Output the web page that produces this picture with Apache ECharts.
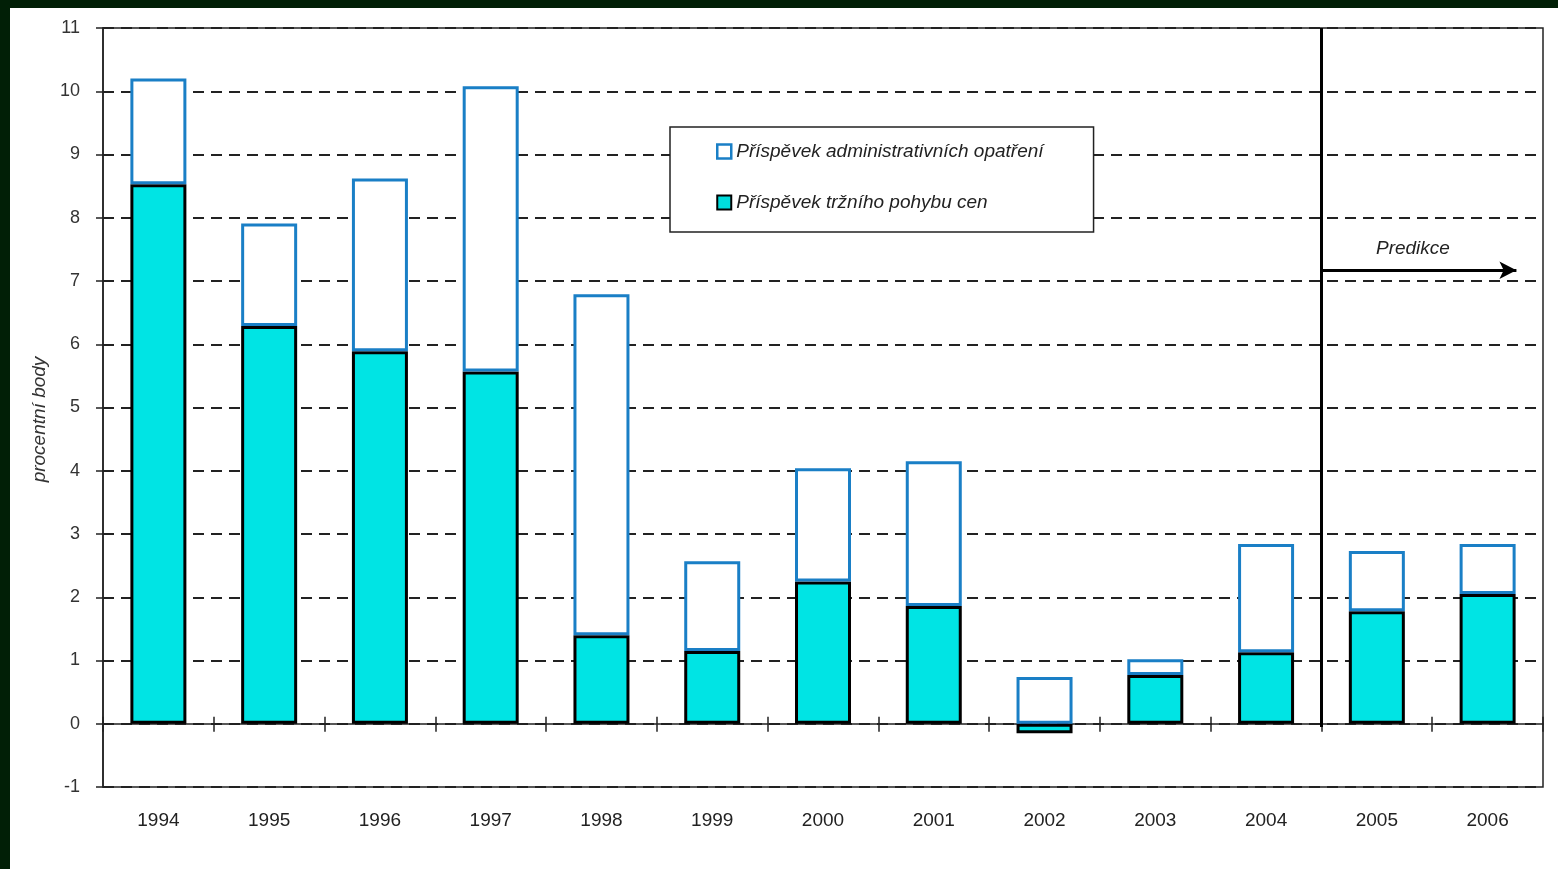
<!DOCTYPE html>
<html>
<head>
<meta charset="utf-8">
<script src="https://cdn.jsdelivr.net/npm/echarts@6/dist/echarts.min.js"></script>
<style>
  html, body { margin: 0; padding: 0; background: #011f06; }
  #chart { position: absolute; left: 10px; top: 8px; width: 1548px; height: 861px; background: #fff; }
</style>
</head>
<body>
<div id="chart"></div>
<script>
// roky
var years = ['1994', '1995', '1996', '1997', '1998', '1999', '2000', '2001', '2002', '2003', '2004', '2005', '2006'];
// příspěvek tržního pohybu cen (procentní body)
var marketPart = [8.53, 6.29, 5.89, 5.57, 1.40, 1.15, 2.25, 1.86, -0.15, 0.77, 1.13, 1.78, 2.05];
// příspěvek administrativních opatření
var adminPart = [1.67, 1.62, 2.73, 4.51, 5.39, 1.42, 1.79, 2.29, 0.74, 0.25, 1.71, 0.95, 0.79];
var marketName = 'Příspěvek tržního pohybu cen';
var adminName = 'Příspěvek administrativních opatření';
// hranice predikce (mezi 2004 a 2005), výška šipky
var predStart = 11;
var predArrowEnd = 12.76;
var predArrowY = 7.17;

var yMin = -1, yMax = 11;
var gridTop = 20, gridBottom = 82, chartH = 861;
// posun horní osy na nulu (ticky nahoru)
var zeroOffset = -(chartH - gridTop - gridBottom) * (yMax - 0) / (yMax - yMin);

var chart = echarts.init(document.getElementById('chart'));

var option = {
  animation: false,
  textStyle: { fontFamily: 'Liberation Sans, Arial, sans-serif' },
  grid: {
    left: 93, top: gridTop, right: 15, bottom: gridBottom,
    show: true, borderColor: '#222', borderWidth: 1.5, backgroundColor: 'transparent'
  },
  legend: {
    orient: 'vertical',
    left: 660, top: 119,
    padding: [15, 50, 20, 46],
    itemGap: 32,
    itemWidth: 14, itemHeight: 14,
    backgroundColor: '#fff',
    borderColor: '#222', borderWidth: 1.5,
    textStyle: { fontStyle: 'italic', fontSize: 19, color: '#222' },
    data: [
      { name: adminName, icon: 'rect', itemStyle: { color: '#fff', borderColor: '#1a7fc6', borderWidth: 2.5 } },
      { name: marketName, icon: 'rect', itemStyle: { color: '#00dcdc', borderColor: '#000', borderWidth: 2 } }
    ]
  },
  xAxis: [
    {
      type: 'category', data: years, position: 'bottom',
      axisLine: { show: false, onZero: false },
      axisTick: { show: false },
      axisLabel: { fontSize: 19, color: '#222', margin: 24 }
    },
    {
      type: 'category', data: years, position: 'bottom',
      axisLine: { onZero: true, lineStyle: { color: '#222', width: 1.5 } },
      axisTick: { show: true, length: 8, lineStyle: { color: '#222', width: 1.5 } },
      axisLabel: { show: false }
    },
    {
      type: 'category', data: years, position: 'top', offset: zeroOffset,
      axisLine: { show: false, onZero: false },
      axisTick: { show: true, length: 7, lineStyle: { color: '#222', width: 1.5 } },
      axisLabel: { show: false }
    },
    { type: 'value', min: 0, max: 13, show: false }
  ],
  yAxis: {
    type: 'value', min: yMin, max: yMax, interval: 1,
    name: 'procentní body', nameLocation: 'middle', nameGap: 43, nameRotate: 90,
    nameTextStyle: { fontStyle: 'italic', fontSize: 19, color: '#333', padding: [0, 0, 0, -24] },
    axisLine: { show: true, onZero: false, lineStyle: { color: '#222', width: 1.5 } },
    axisTick: { show: true, length: 7, lineStyle: { color: '#222', width: 1.5 } },
    axisLabel: { fontSize: 18, color: '#333', margin: 23 },
    splitLine: { show: true, lineStyle: { color: '#222', width: 2, type: [11, 7] } }
  },
  series: [
    {
      name: marketName, type: 'bar', stack: 'total', barWidth: 56, xAxisIndex: 0,
      itemStyle: { color: '#00e4e4', borderColor: '#000', borderWidth: 3 },
      data: marketPart
    },
    {
      name: adminName, type: 'bar', stack: 'total', barWidth: 56, xAxisIndex: 0,
      itemStyle: { color: '#fff', borderColor: '#1a7fc6', borderWidth: 3 },
      data: adminPart
    },
    {
      type: 'line', xAxisIndex: 3, data: [[predStart, 0]], symbol: 'none',
      lineStyle: { width: 0 }, silent: true,
      markLine: {
        silent: true, symbol: 'none', animation: false,
        lineStyle: { color: '#000', width: 3, type: 'solid' },
        label: { show: false },
        data: [
          [{ coord: [predStart, -0.05] }, { coord: [predStart, 11] }],
          [
            { coord: [predStart, predArrowY], symbol: 'none' },
            {
              coord: [predArrowEnd, predArrowY], symbol: 'arrow', symbolSize: [13, 17],
              label: {
                show: true, position: 'middle', formatter: 'Predikce', distance: 12,
                fontStyle: 'italic', fontSize: 19, color: '#222', padding: [0, 12, 0, 0]
              }
            }
          ]
        ]
      }
    }
  ]
};

chart.setOption(option);
</script>
</body>
</html>
